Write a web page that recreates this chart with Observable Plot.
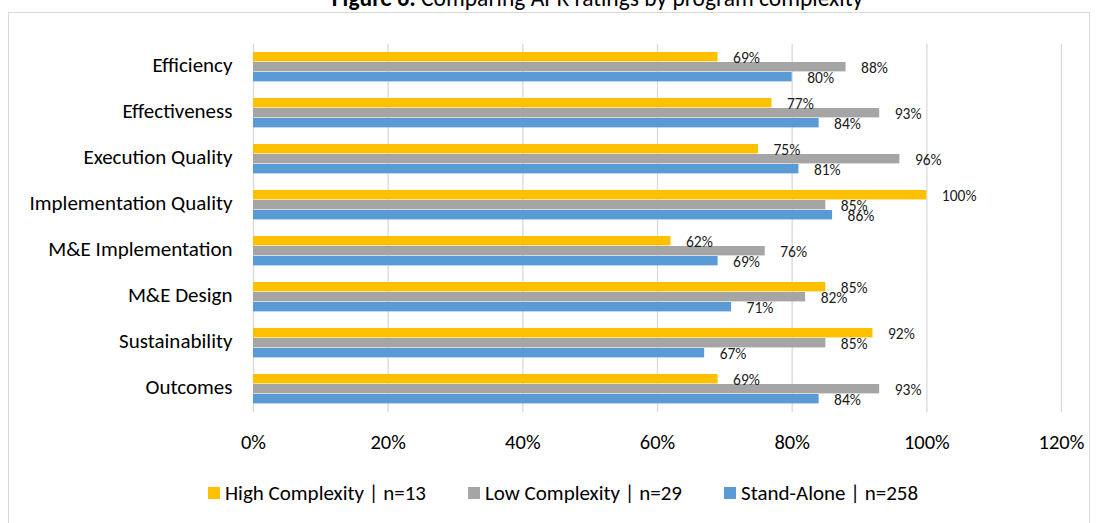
<!DOCTYPE html>
<html><head><meta charset="utf-8">
<script src="https://cdn.jsdelivr.net/npm/d3@7"></script>
<script src="https://cdn.jsdelivr.net/npm/@observablehq/plot@0.6"></script>
<style>
body{margin:0;background:#fff;font-family:Carlito,Lato,sans-serif;}
#wrap{position:relative;width:1099px;height:523px;overflow:hidden;background:#fff;}
#frame{position:absolute;left:8px;top:12px;width:1082px;height:530px;border:1px solid #d9d9d9;box-sizing:border-box;}
#title{position:absolute;left:48px;width:1099px;top:-16px;text-align:center;font-size:23.5px;line-height:28px;color:#000;white-space:nowrap;}
#chart{position:absolute;left:0;top:0;}
#legend{position:absolute;top:480px;left:208px;display:flex;gap:42px;font-size:21px;line-height:26px;color:#000;white-space:nowrap;}
.item{display:flex;align-items:center;}
.sw{width:12px;height:12px;margin-right:5px;display:inline-block;}
</style>
</head><body>
<div id="wrap">
  <div id="frame"></div>
  <div id="title"><b>Figure 6:</b> Comparing APR ratings by program complexity</div>
  <div id="chart"></div>
  <div id="legend"></div>
</div>
<script>
const categories = ["Efficiency","Effectiveness","Execution Quality","Implementation Quality","M&E Implementation","M&E Design","Sustainability","Outcomes"];
const series = ["High Complexity | n=13","Low Complexity | n=29","Stand-Alone | n=258"];
const highComplexity = [0.69,0.77,0.75,1.00,0.62,0.85,0.92,0.69];
const lowComplexity  = [0.88,0.93,0.96,0.85,0.76,0.82,0.85,0.93];
const standAlone     = [0.80,0.84,0.81,0.86,0.69,0.71,0.67,0.84];
const xTicks = [0,0.2,0.4,0.6,0.8,1.0,1.2];
const colors = ["#FFC000","#A5A5A5","#5B9BD5"];

const seriesValues = [highComplexity, lowComplexity, standAlone];
const rows = categories.flatMap((c,i)=>series.map((s,j)=>({category:c, series:s, value:seriesValues[j][i]})));
const pct = d3.format(".0%");
const gapHalf = 8.3;

const chart = Plot.plot({
  width:1099, height:460,
  marginTop:42, marginBottom:46, marginLeft:253, marginRight:38,
  style:{fontFamily:"Carlito, Lato, sans-serif", color:"#000", background:"transparent"},
  x:{domain:[0,1.2], ticks:xTicks, tickFormat:pct},
  fy:{domain:categories, paddingInner:0.355, paddingOuter:0.1775, label:null},
  y:{domain:series, padding:0, axis:null},
  color:{domain:series, range:colors},
  marks:[
    Plot.ruleX(xTicks, {stroke:"#d9d9d9", strokeWidth:1.3, insetTop:-gapHalf, insetBottom:-gapHalf}),
    Plot.barX(rows, {x:"value", y:"series", fy:"category", fill:"series", insetBottom:0.6}),
    Plot.text(rows, {x:"value", y:"series", fy:"category", text:d=>pct(d.value), textAnchor:"start", dx:15, dy:1, fontSize:15.5, fill:"#1a1a1a"}),
    Plot.axisFy({anchor:"left", tickSize:0, tickPadding:21, fontSize:21, dy:-2, label:null, fill:"#000"}),
    Plot.axisX({anchor:"bottom", ticks:xTicks, tickFormat:pct, tickSize:0, tickPadding:30, fontSize:20.5, label:null, fill:"#000"})
  ]
});
document.getElementById("chart").appendChild(chart);

const legend = document.getElementById("legend");
series.forEach((s,j)=>{
  const it = document.createElement("div"); it.className="item";
  const sw = document.createElement("span"); sw.className="sw"; sw.style.background=colors[j];
  const tx = document.createElement("span"); tx.textContent=s;
  it.appendChild(sw); it.appendChild(tx); legend.appendChild(it);
});
</script>
</body></html>
